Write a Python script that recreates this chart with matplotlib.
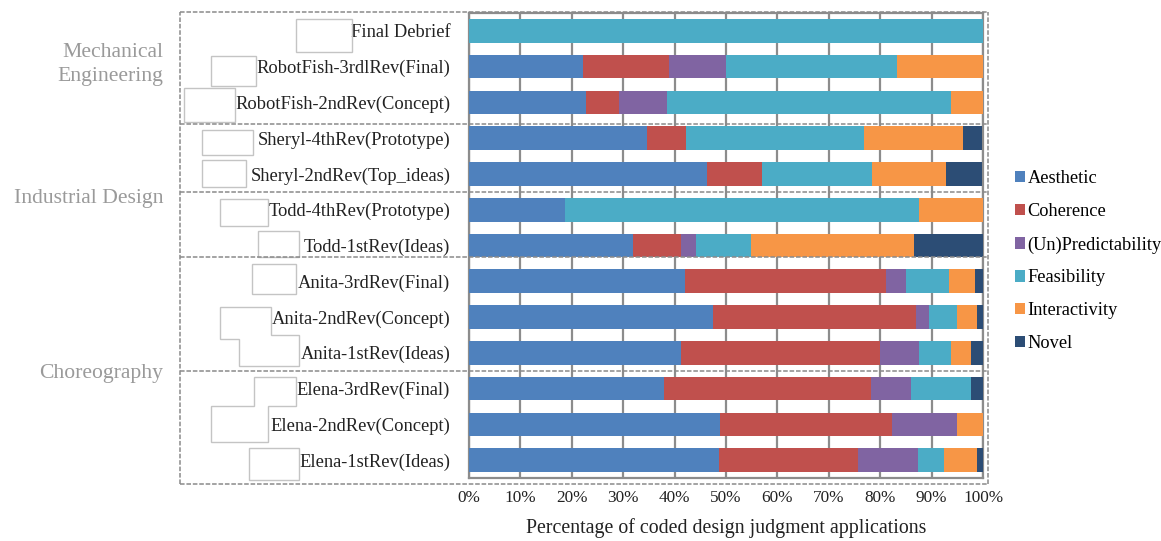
import matplotlib
matplotlib.use("Agg")
import matplotlib.pyplot as plt
import matplotlib.transforms as mtransforms
from matplotlib.patches import Polygon
from matplotlib.lines import Line2D
import numpy as np

plt.rcParams['font.family'] = ['Liberation Serif', 'DejaVu Serif']

reviews = ['Final Debrief', 'RobotFish-3rdlRev(Final)', 'RobotFish-2ndRev(Concept)',
           'Sheryl-4thRev(Prototype)', 'Sheryl-2ndRev(Top_ideas)',
           'Todd-4thRev(Prototype)', 'Todd-1stRev(Ideas)',
           'Anita-3rdRev(Final)', 'Anita-2ndRev(Concept)', 'Anita-1stRev(Ideas)',
           'Elena-3rdRev(Final)', 'Elena-2ndRev(Concept)', 'Elena-1stRev(Ideas)']

aesthetic = [0, 22.2, 22.7, 34.6, 46.4, 18.75, 31.9, 42.0, 47.4, 41.3, 38.0, 48.9, 48.6]
coherence = [0, 16.7, 6.4, 7.7, 10.7, 0, 9.4, 39.1, 39.6, 38.6, 40.3, 33.4, 27.1]
unpredictability = [0, 11.1, 9.5, 0, 0, 0, 2.8, 4.0, 2.5, 7.6, 7.7, 12.6, 11.6]
feasibility = [100, 33.3, 55.1, 34.6, 21.4, 68.75, 10.7, 8.3, 5.4, 6.2, 11.6, 0, 5.2]
interactivity = [0, 16.7, 6.3, 19.2, 14.3, 12.5, 31.8, 5.1, 4.0, 4.0, 0, 5.1, 6.4]
novel = [0, 0, 0, 3.8, 7.1, 0, 13.4, 1.5, 1.1, 2.3, 2.4, 0, 1.1]

categories = ['Aesthetic', 'Coherence', '(Un)Predictability', 'Feasibility', 'Interactivity', 'Novel']
colors = ['#4f81bd', '#c0504d', '#8064a2', '#4bacc6', '#f79646', '#2c4d75']

departments = ['Mechanical\nEngineering', 'Industrial Design', 'Choreography']
dept_label_rows = [0.95, 4.68, 9.58]
# separators between departments / students (row units)
separators = [2.61, 4.5, 6.33, 9.5]

W, H = 1161, 541
fig = plt.figure(figsize=(W / 100, H / 100), dpi=100)
ax = fig.add_axes([469 / W, 1 - 478 / H, 514 / W, 465 / H])

y = np.arange(len(reviews))
left = np.zeros(len(reviews))
series = [aesthetic, coherence, unpredictability, feasibility, interactivity, novel]
for vals, name, c in zip(series, categories, colors):
    vals = np.array(vals, dtype=float)
    ax.barh(y, vals, left=left, height=0.66, color=c, label=name, zorder=3)
    left += vals

ax.set_xlim(0, 100)
ax.set_ylim(len(reviews) - 0.5, -0.5)
ax.set_xticks(np.arange(0, 101, 10))
ax.set_xticklabels([f'{v}%' for v in range(0, 101, 10)], fontsize=12.4, color='#222222')
ax.set_yticks(y)
ax.set_yticklabels(reviews, fontsize=13.3, color='#222222')
ax.tick_params(axis='both', length=0)
ax.tick_params(axis='y', pad=13.5)
ax.tick_params(axis='x', pad=9)
ax.grid(axis='x', color='#8c8c8c', linewidth=1.6, zorder=0)
for s in ax.spines.values():
    s.set_color('#8c8c8c')
    s.set_linewidth(1.6)
ax.set_xlabel('Percentage of coded design judgment applications', fontsize=14.3,
              color='#222222', labelpad=8)

ax.legend(loc='upper left', bbox_to_anchor=(1008 / W, 1 - 163 / H),
          bbox_transform=fig.transFigure, frameon=False, fontsize=13.2,
          handlelength=0.55, handleheight=0.55, handletextpad=0.12,
          labelspacing=0.87, borderaxespad=0)

# department names on the far left
blend = mtransforms.blended_transform_factory(fig.transFigure, ax.transData)
for name, r in zip(departments, dept_label_rows):
    ax.text(163 / W, r, name, transform=blend,
            ha='right', va='center', fontsize=15.6, color='#9a9a9a', linespacing=1.35)

# dashed grouping boxes
dash = dict(color='#8a8a8a', linewidth=1.1, linestyle=(0, (3, 1.2)))
fx0, fx1 = 180 / W, 988 / W
fy0, fy1 = 1 - 484 / H, 1 - 12 / H
for xs, ys in [([fx0, fx1], [fy1, fy1]), ([fx0, fx1], [fy0, fy0]),
               ([fx0, fx0], [fy0, fy1]), ([fx1, fx1], [fy0, fy1])]:
    fig.add_artist(Line2D(xs, ys, transform=fig.transFigure, **dash))
for s in separators:
    ln = Line2D([fx0, fx1], [s, s], transform=blend, **dash)
    ln.set_clip_on(False)
    fig.add_artist(ln)

# empty label boxes left beside the review names (pixel outlines)
boxes = [
    [(296, 19), (352, 19), (352, 52), (296, 52)],
    [(211, 56), (256, 56), (256, 86), (211, 86)],
    [(184, 88), (235, 88), (235, 122), (184, 122)],
    [(202, 130), (253, 130), (253, 155), (202, 155)],
    [(202, 160), (246, 160), (246, 187), (202, 187)],
    [(220, 199), (268, 199), (268, 226), (220, 226)],
    [(258, 231), (299, 231), (299, 257), (258, 257)],
    [(252, 264), (296, 264), (296, 294), (252, 294)],
    [(220, 307), (271, 307), (271, 335), (299, 335), (299, 366), (239, 366), (239, 339), (220, 339)],
    [(254, 377), (296, 377), (296, 406), (268, 406), (268, 442), (211, 442), (211, 406), (254, 406)],
    [(249, 448), (299, 448), (299, 480), (249, 480)],
]
for pts in boxes:
    xy = [(px / W, 1 - py / H) for px, py in pts]
    fig.add_artist(Polygon(xy, closed=True, fill=False, edgecolor='#c4c4c4',
                           linewidth=1.0, transform=fig.transFigure))

fig.savefig('out.png', dpi=100)
